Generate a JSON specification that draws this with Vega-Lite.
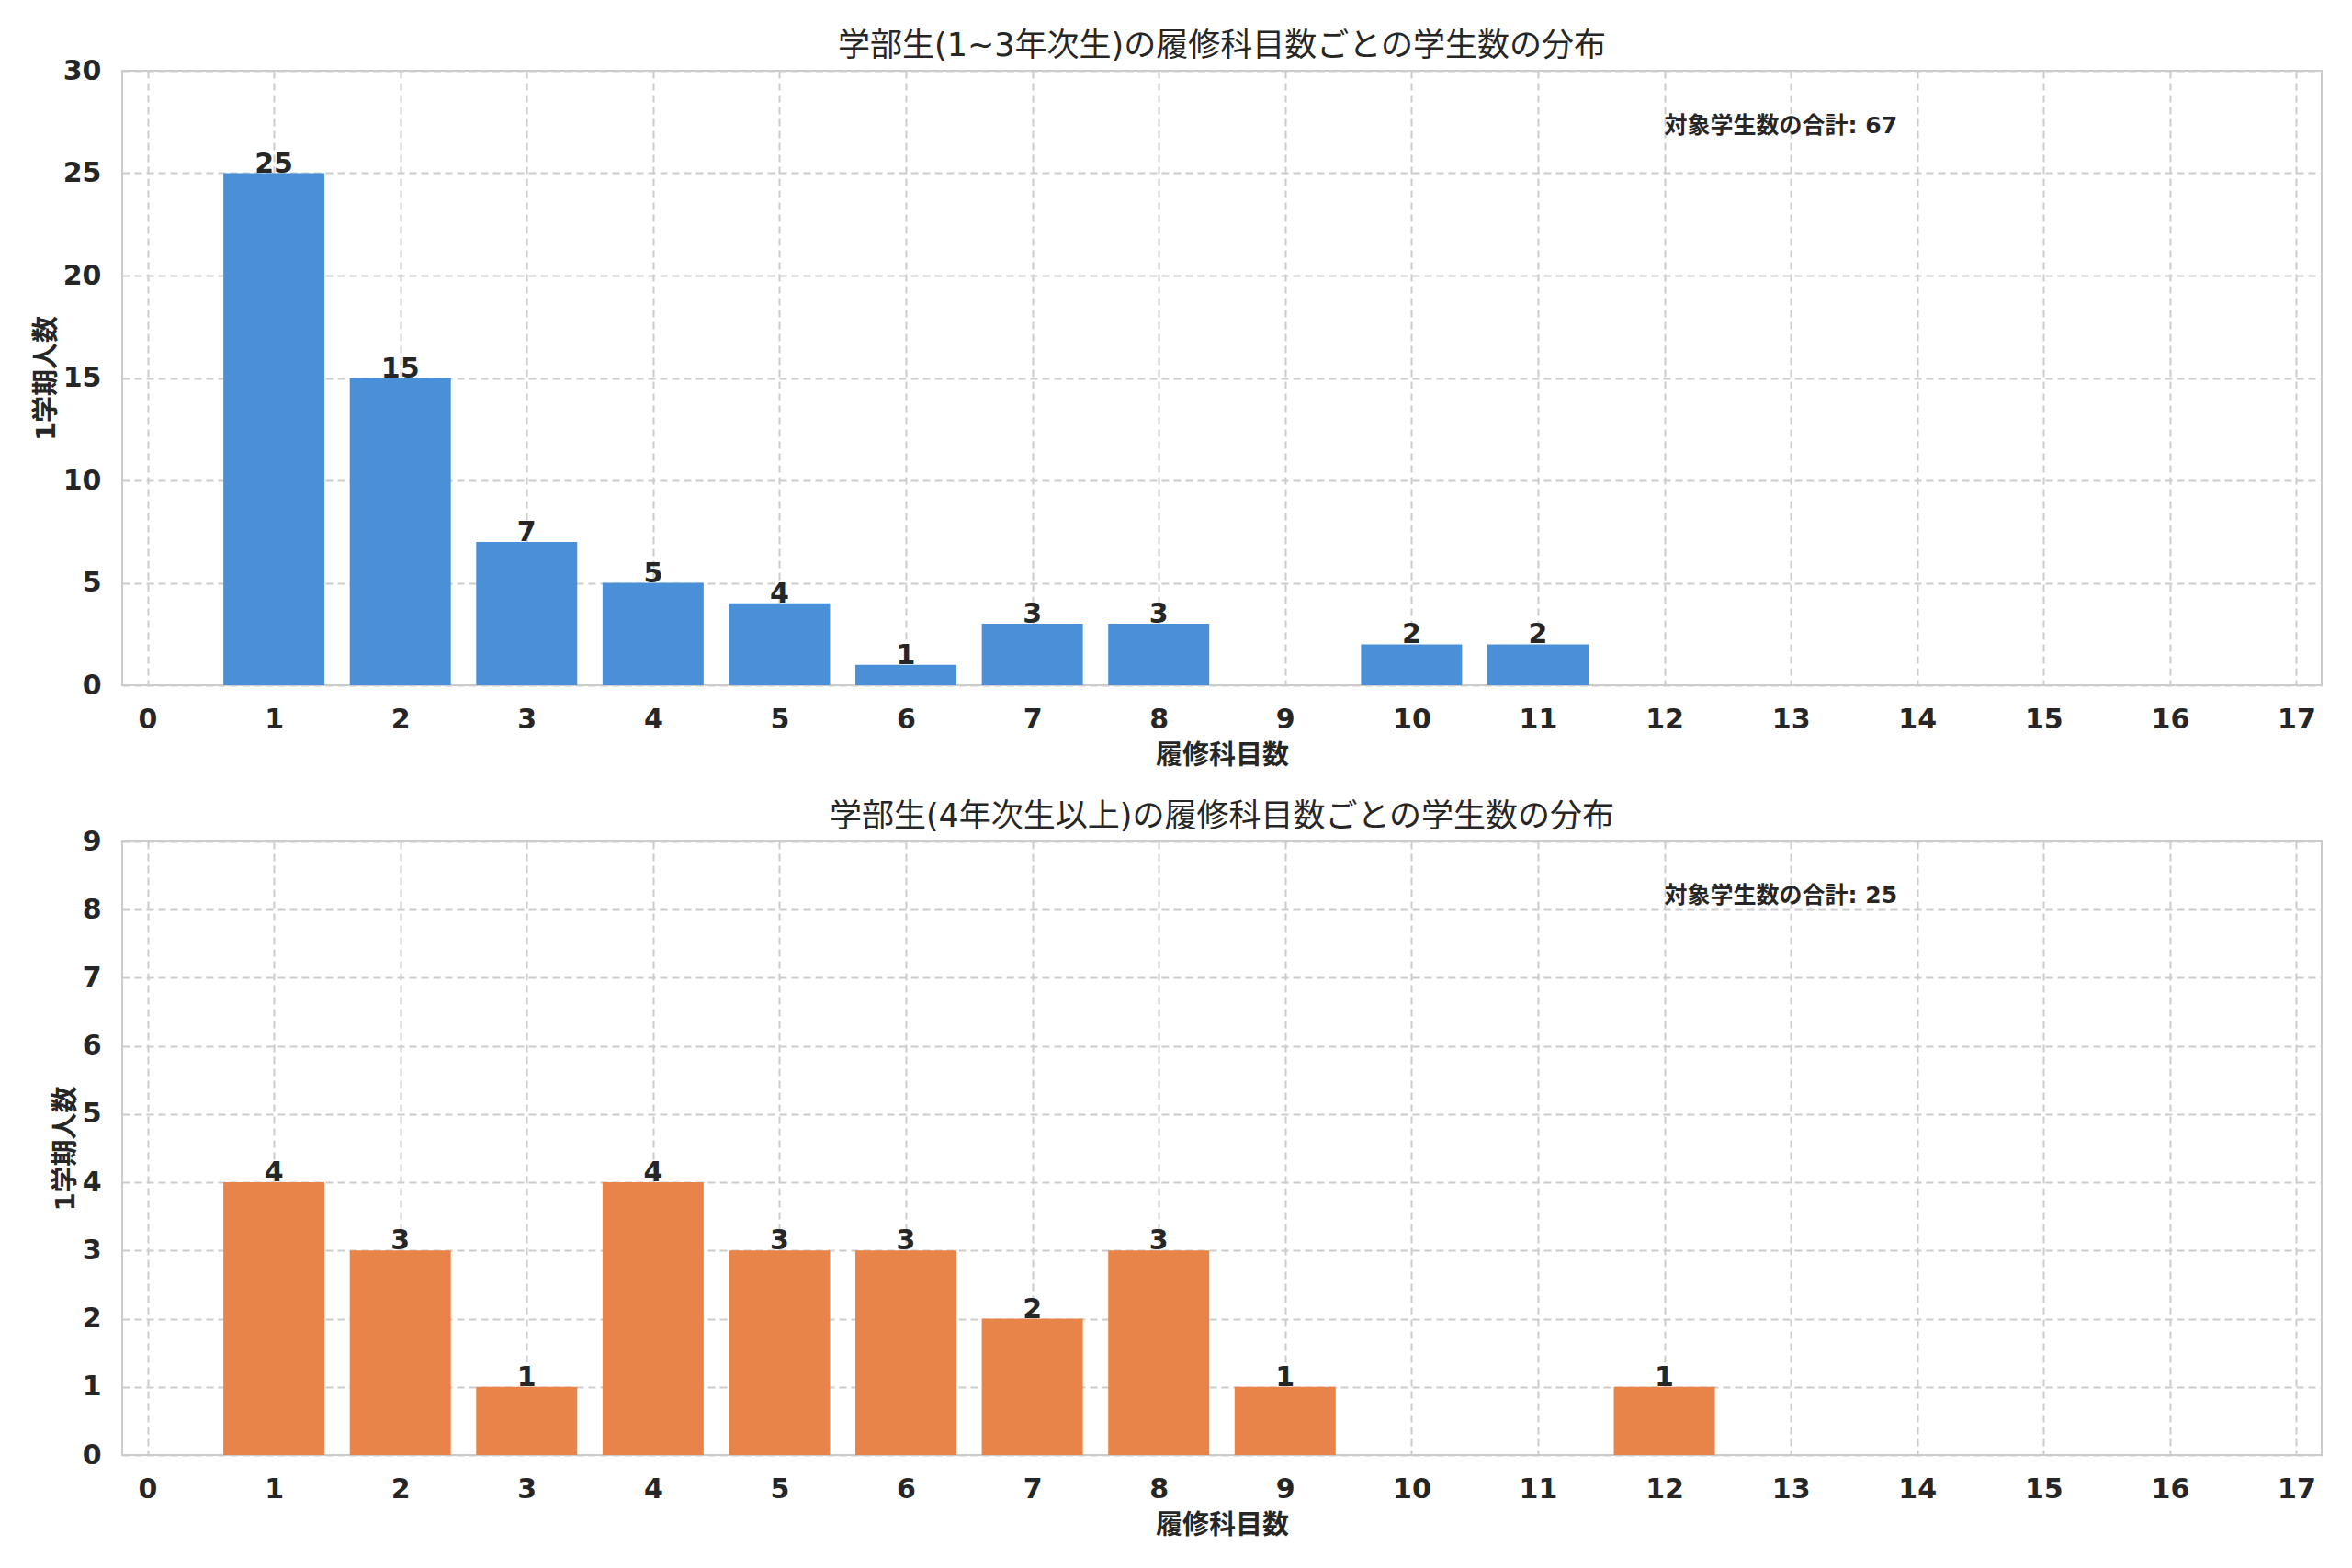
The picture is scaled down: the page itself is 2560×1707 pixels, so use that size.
{
  "$schema": "https://vega.github.io/schema/vega-lite/v6.json",
  "background": "white",
  "padding": {"left": 35, "top": 32, "right": 5, "bottom": 5},
  "datasets": {
    "lower": [
      {"courses": 1, "students": 25},
      {"courses": 2, "students": 15},
      {"courses": 3, "students": 7},
      {"courses": 4, "students": 5},
      {"courses": 5, "students": 4},
      {"courses": 6, "students": 1},
      {"courses": 7, "students": 3},
      {"courses": 8, "students": 3},
      {"courses": 10, "students": 2},
      {"courses": 11, "students": 2}
    ],
    "upper": [
      {"courses": 1, "students": 4},
      {"courses": 2, "students": 3},
      {"courses": 3, "students": 1},
      {"courses": 4, "students": 4},
      {"courses": 5, "students": 3},
      {"courses": 6, "students": 3},
      {"courses": 7, "students": 2},
      {"courses": 8, "students": 3},
      {"courses": 9, "students": 1},
      {"courses": 12, "students": 1}
    ]
  },
  "config": {
    "font": "DejaVu Sans, Noto Sans CJK JP",
    "view": {"stroke": "#cccccc", "strokeWidth": 2},
    "axis": {
      "grid": true,
      "gridColor": "#cccccc",
      "gridDash": [8, 5],
      "gridWidth": 2,
      "domain": false,
      "ticks": false,
      "labelFontSize": 30,
      "labelFontWeight": "bold",
      "labelColor": "#262626",
      "titleFontSize": 29,
      "titleFontWeight": "bold",
      "titleColor": "#262626"
    },
    "title": {"fontSize": 35, "fontWeight": "normal", "color": "#262626", "offset": -6},
    "concat": {"spacing": 33}
  },
  "vconcat": [
    {
      "width": 2394,
      "height": 669,
      "title": "学部生(1~3年次生)の履修科目数ごとの学生数の分布",
      "layer": [
        {
          "data": {"name": "lower"},
          "mark": {"type": "bar", "width": 110, "color": "#4a90d9"},
          "encoding": {
            "x": {
              "field": "courses",
              "type": "quantitative",
              "scale": {"domain": [-0.2, 17.2], "nice": false, "zero": false, "padding": 0},
              "axis": {"values": [0, 1, 2, 3, 4, 5, 6, 7, 8, 9, 10, 11, 12, 13, 14, 15, 16, 17], "format": "d", "title": "履修科目数", "labelPadding": 22, "titlePadding": 10}
            },
            "y": {
              "field": "students",
              "type": "quantitative",
              "scale": {"domain": [0, 30], "nice": false},
              "axis": {"values": [0, 5, 10, 15, 20, 25, 30], "format": "d", "title": "1学期人数", "labelPadding": 23, "titlePadding": 3}
            }
          }
        },
        {
          "data": {"name": "lower"},
          "mark": {"type": "text", "baseline": "alphabetic", "dy": -1, "fontSize": 30, "fontWeight": "bold", "color": "#262626"},
          "encoding": {
            "x": {"field": "courses", "type": "quantitative"},
            "y": {"field": "students", "type": "quantitative"},
            "text": {"field": "students"}
          }
        },
        {
          "data": {"values": [{"note": "対象学生数の合計: 67"}]},
          "mark": {"type": "text", "align": "left", "baseline": "middle", "fontSize": 25, "fontWeight": "bold", "color": "#262626"},
          "encoding": {
            "x": {"datum": 12},
            "y": {"datum": 27.3},
            "text": {"field": "note"}
          }
        }
      ]
    },
    {
      "width": 2394,
      "height": 668,
      "title": "学部生(4年次生以上)の履修科目数ごとの学生数の分布",
      "layer": [
        {
          "data": {"name": "upper"},
          "mark": {"type": "bar", "width": 110, "color": "#e8844a"},
          "encoding": {
            "x": {
              "field": "courses",
              "type": "quantitative",
              "scale": {"domain": [-0.2, 17.2], "nice": false, "zero": false, "padding": 0},
              "axis": {"values": [0, 1, 2, 3, 4, 5, 6, 7, 8, 9, 10, 11, 12, 13, 14, 15, 16, 17], "format": "d", "title": "履修科目数", "labelPadding": 22, "titlePadding": 10}
            },
            "y": {
              "field": "students",
              "type": "quantitative",
              "scale": {"domain": [0, 9], "nice": false},
              "axis": {"values": [0, 1, 2, 3, 4, 5, 6, 7, 8, 9], "format": "d", "title": "1学期人数", "labelPadding": 23, "titlePadding": 3}
            }
          }
        },
        {
          "data": {"name": "upper"},
          "mark": {"type": "text", "baseline": "alphabetic", "dy": -1, "fontSize": 30, "fontWeight": "bold", "color": "#262626"},
          "encoding": {
            "x": {"field": "courses", "type": "quantitative"},
            "y": {"field": "students", "type": "quantitative"},
            "text": {"field": "students"}
          }
        },
        {
          "data": {"values": [{"note": "対象学生数の合計: 25"}]},
          "mark": {"type": "text", "align": "left", "baseline": "middle", "fontSize": 25, "fontWeight": "bold", "color": "#262626"},
          "encoding": {
            "x": {"datum": 12},
            "y": {"datum": 8.2},
            "text": {"field": "note"}
          }
        }
      ]
    }
  ]
}
